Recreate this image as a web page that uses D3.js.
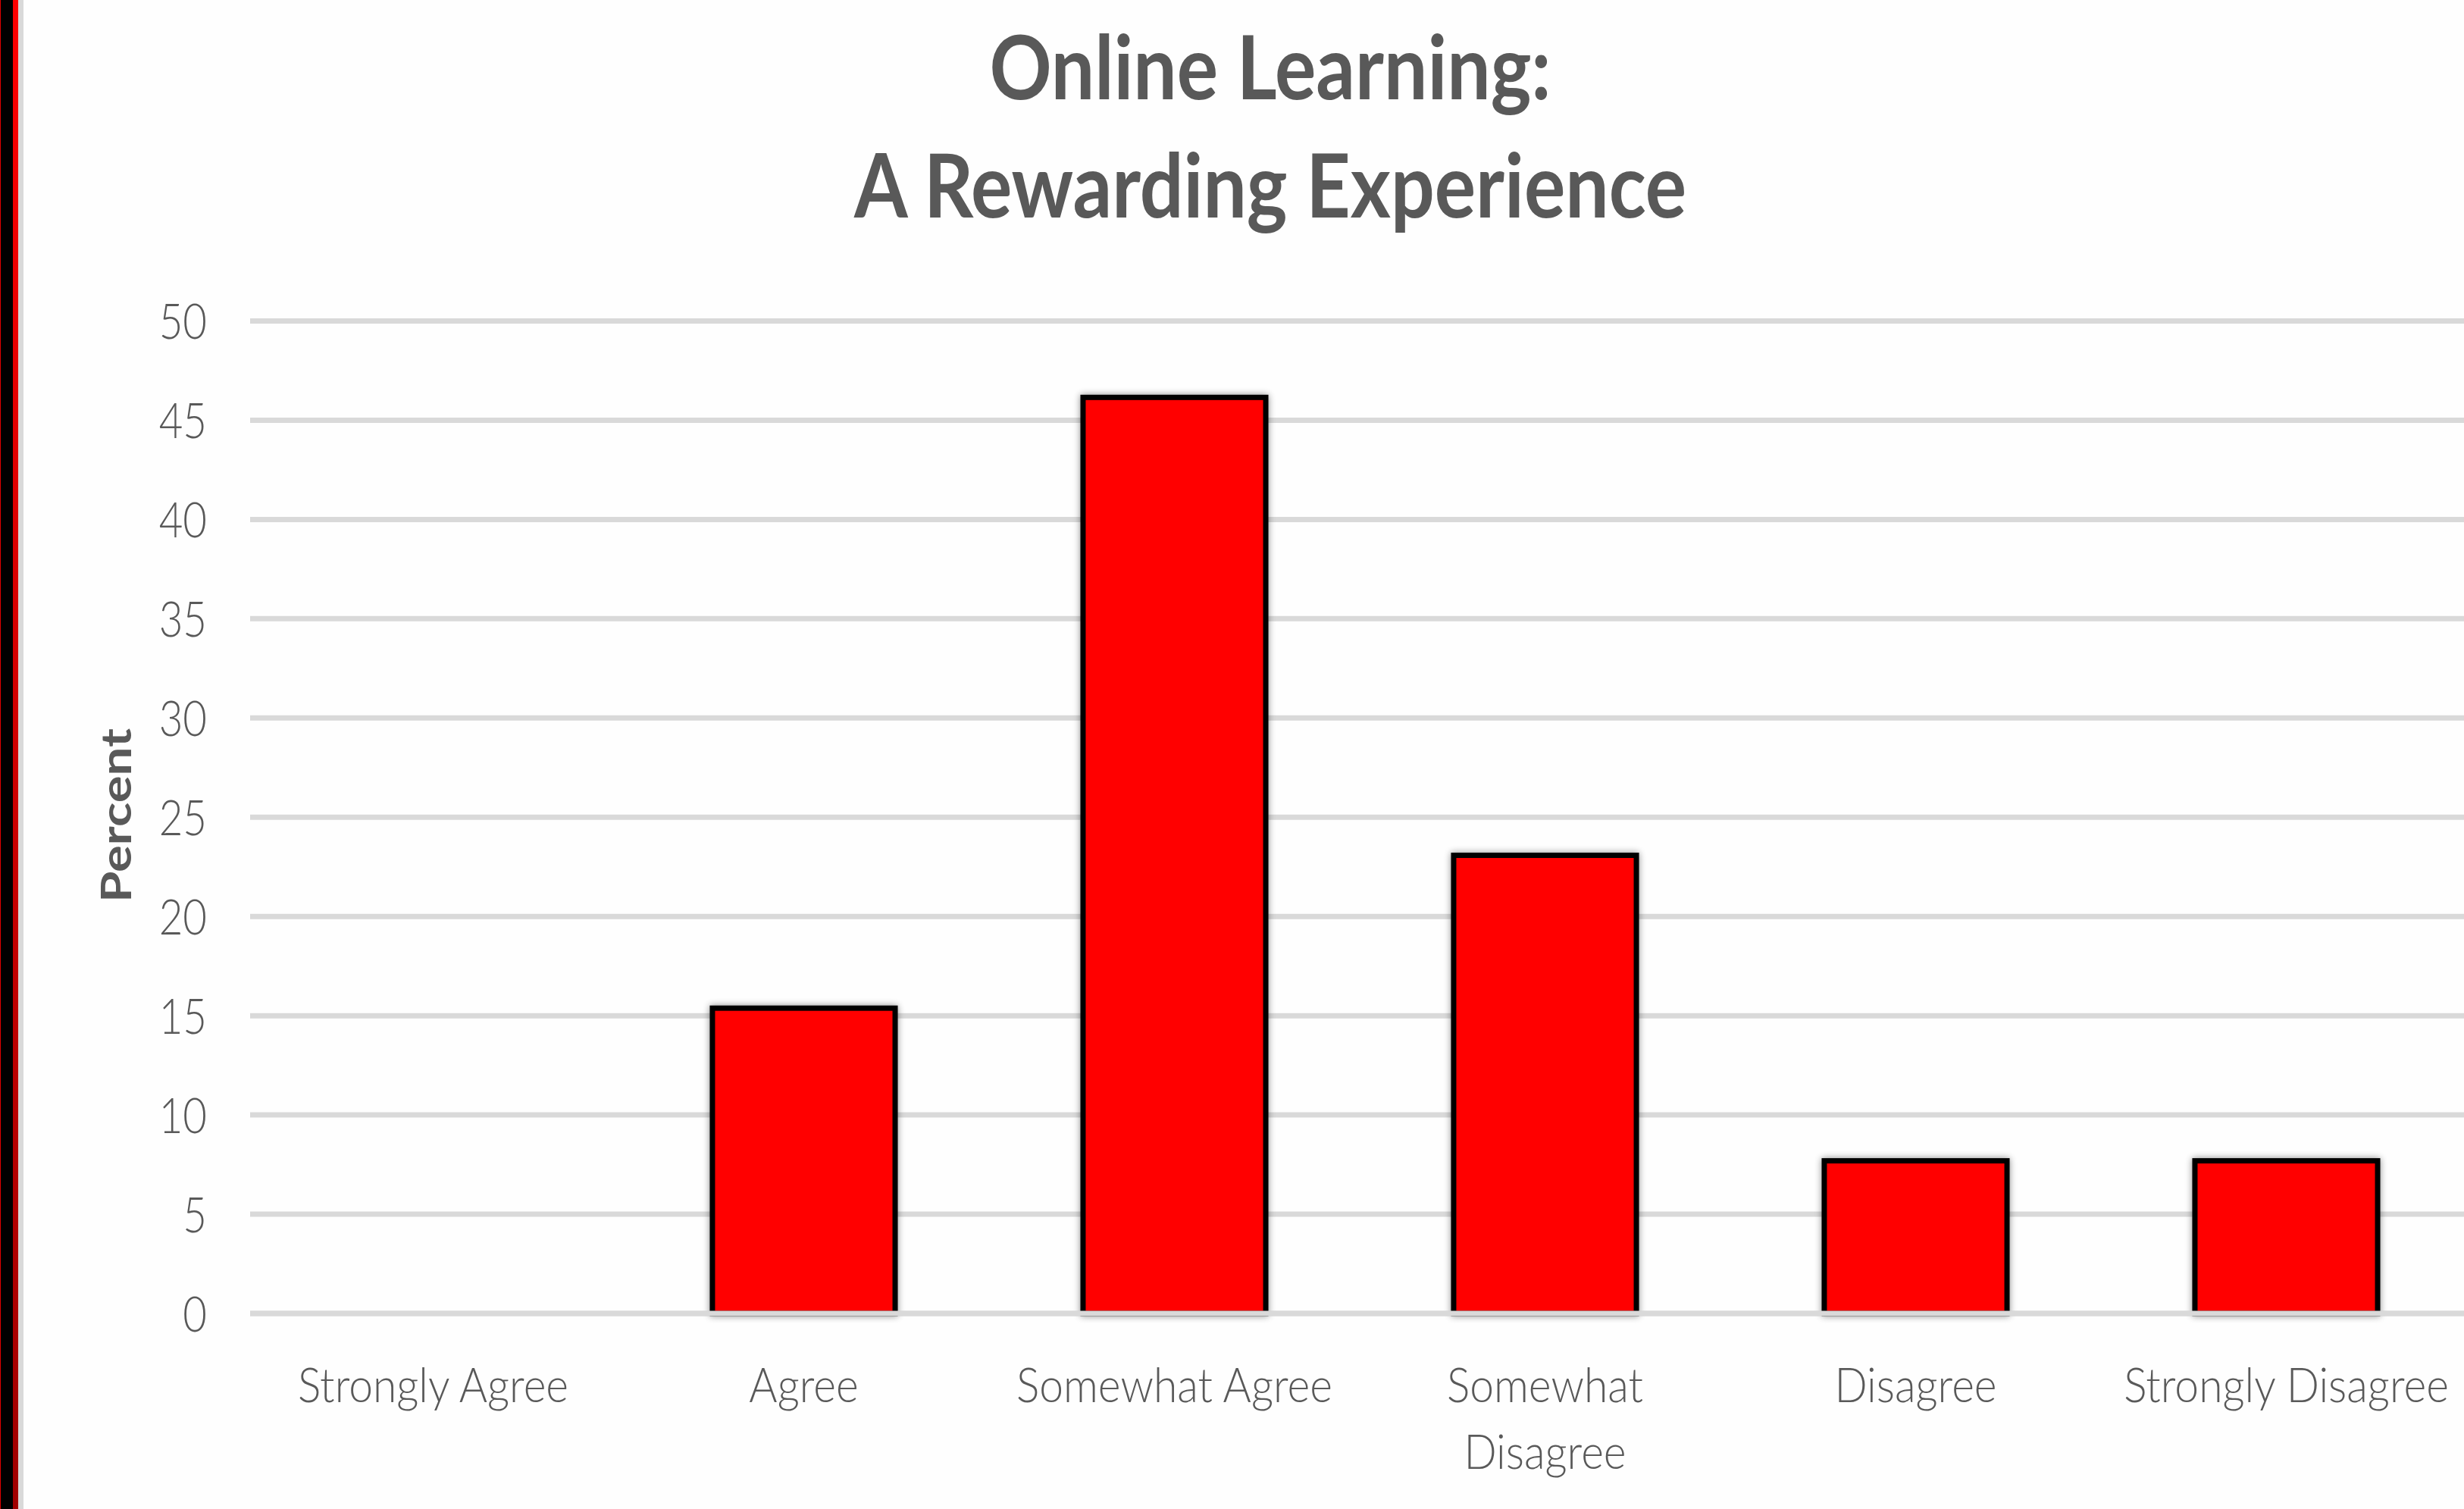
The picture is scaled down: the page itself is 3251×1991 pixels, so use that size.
<!DOCTYPE html>
<meta charset="utf-8">
<title>Online Learning: A Rewarding Experience</title>
<style>
html, body { margin: 0; padding: 0; background: #fff; }
svg { display: block; }
text { font-family: Lato, "Open Sans", sans-serif; fill: #595959; }
.title { font-weight: 700; font-size: 117px; }
.tick { font-size: 65px; font-weight: 300; }
.cat { font-size: 64px; font-weight: 300; }
.ylab { font-weight: 700; font-size: 56px; }
</style>
<body>
<script src="https://d3js.org/d3.v7.min.js"></script>
<script>
var categories = ["Strongly Agree", "Agree", "Somewhat Agree", "Somewhat Disagree", "Disagree", "Strongly Disagree"];
// labels as they wrap under the axis
var catLines = [["Strongly Agree"], ["Agree"], ["Somewhat Agree"], ["Somewhat", "Disagree"], ["Disagree"], ["Strongly Disagree"]];
var percent = [0, 15.38, 46.15, 23.08, 7.69, 7.69];
var yTicks = [0, 5, 10, 15, 20, 25, 30, 35, 40, 45, 50];
var titleLines = ["Online Learning:", "A Rewarding Experience"];
var yTitle = "Percent";

var W = 3251, H = 1991;

var svg = d3.select("body").append("svg")
  .attr("width", W)
  .attr("height", H);

var defs = svg.append("defs");
var grad = defs.append("linearGradient").attr("id", "edge").attr("x1", 0).attr("y1", 0).attr("x2", 0).attr("y2", 1);
grad.append("stop").attr("offset", "0%").attr("stop-color", "#ff0000");
grad.append("stop").attr("offset", "100%").attr("stop-color", "#a00000");

var shadow = defs.append("filter").attr("id", "glow")
  .attr("x", "-20%").attr("y", "-20%").attr("width", "140%").attr("height", "140%");
shadow.append("feGaussianBlur").attr("in", "SourceAlpha").attr("stdDeviation", 5);
shadow.append("feComponentTransfer").append("feFuncA").attr("type", "linear").attr("slope", 0.45);
var merge = shadow.append("feMerge");
merge.append("feMergeNode");
merge.append("feMergeNode").attr("in", "SourceGraphic");

// frame on the left edge
svg.append("rect").attr("x", 0).attr("y", 0).attr("width", W).attr("height", H).attr("fill", "#fefefe");
svg.append("rect").attr("x", 0).attr("y", 0).attr("width", 17).attr("height", H).attr("fill", "#000");
svg.append("rect").attr("x", 0).attr("y", 0).attr("width", 1).attr("height", H).attr("fill", "#e00000");
svg.append("rect").attr("x", 17).attr("y", 0).attr("width", 7).attr("height", H).attr("fill", "url(#edge)");
svg.append("rect").attr("x", 24).attr("y", 0).attr("width", 7).attr("height", H).attr("fill", "#d9d9d9");

var x = d3.scaleBand()
  .domain(categories)
  .range([327, 3261])
  .paddingInner(0.507)
  .paddingOuter(0.2535);

var y = d3.scaleLinear()
  .domain([0, 50])
  .range([1733, 423.5]);

// gridlines
svg.append("g").selectAll("line")
  .data(yTicks)
  .enter().append("line")
    .attr("x1", 330).attr("x2", W)
    .attr("y1", function(d) { return y(d); })
    .attr("y2", function(d) { return y(d); })
    .attr("stroke", "#d9d9d9")
    .attr("stroke-width", 7);

// tick labels
svg.append("g").selectAll("g")
  .data(yTicks)
  .enter().append("g")
    .attr("transform", function(d) { return "translate(273," + (y(d) + 23.5) + ")"; })
  .append("text")
    .attr("class", "tick")
    .attr("text-anchor", "end")
    .attr("transform", "scale(0.84,1)")
    .text(function(d) { return d; });

// bars
svg.append("g").selectAll("rect")
  .data(percent)
  .enter().append("rect")
    .attr("x", function(d, i) { return x(categories[i]); })
    .attr("width", x.bandwidth())
    .attr("y", function(d) { return y(d); })
    .attr("height", function(d) { return y(0) - y(d); })
    .attr("fill", "#ff0000")
    .attr("stroke", "#000")
    .attr("stroke-width", 7)
    .attr("filter", "url(#glow)");

// zero line sits over the bar bottoms
svg.append("line")
  .attr("x1", 330).attr("x2", W)
  .attr("y1", y(0)).attr("y2", y(0))
  .attr("stroke", "#d9d9d9")
  .attr("stroke-width", 7);

// category labels
var cats = svg.append("g").selectAll("g")
  .data(catLines)
  .enter().append("g")
    .attr("transform", function(d, i) { return "translate(" + (x(categories[i]) + x.bandwidth() / 2) + ",1850)"; });
cats.selectAll("text")
  .data(function(d) { return d; })
  .enter().append("text")
    .attr("class", "cat")
    .attr("text-anchor", "middle")
    .attr("transform", function(d, j) { return "translate(0," + (j * 88) + ") scale(0.89,1)"; })
    .text(function(d) { return d; });

// axis title
svg.append("g")
  .attr("transform", "translate(173,1076) rotate(-90)")
  .append("text")
    .attr("class", "ylab")
    .attr("text-anchor", "middle")
    .attr("transform", "scale(1.2,1)")
    .text(yTitle);

// chart title
svg.append("g").selectAll("g")
  .data(titleLines)
  .enter().append("g")
    .attr("transform", function(d, i) { return "translate(1676," + (i ? 287 : 131) + ")"; })
  .append("text")
    .attr("class", "title")
    .attr("text-anchor", "middle")
    .attr("transform", "scale(0.87,1)")
    .text(function(d) { return d; });
</script>
</body>
